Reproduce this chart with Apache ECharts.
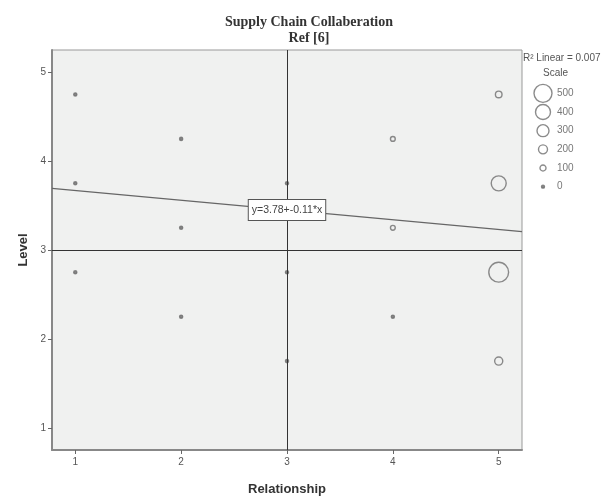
<!DOCTYPE html>
<html>
<head>
<meta charset="utf-8">
<script src="https://cdn.jsdelivr.net/npm/echarts@6/dist/echarts.min.js"></script>
<style>
  html, body { margin: 0; padding: 0; background: #fff; }
  #chart { width: 616px; height: 501px; }
</style>
</head>
<body>
<div id="chart"></div>
<script>
// data
const relationship = [1, 1, 1, 2, 2, 2, 3, 3, 3, 4, 4, 4, 5, 5, 5, 5];
const level = [4.75, 3.75, 2.75, 4.25, 3.25, 2.25, 3.75, 2.75, 1.75, 4.25, 3.25, 2.25, 4.75, 3.75, 2.75, 1.75];
const count = [5, 5, 5, 5, 5, 5, 5, 5, 5, 60, 60, 5, 120, 400, 560, 170];
const tickValues = [1, 2, 3, 4, 5];
const scaleValues = [500, 400, 300, 200, 100, 0];
const fitIntercept = 3.78;
const fitSlope = -0.11;

const xMin = 0.78, xMax = 5.22;
const yMin = 0.75, yMax = 5.25;

// bubble diameter from count
const bubble = v => 3 + 0.03 * v;
const fit = x => fitIntercept + fitSlope * x;
// tiny bubbles look like filled dots
const bubbleFill = p => (p.data[2] < 50 ? '#6e6e6e' : 'rgba(0,0,0,0)');

const points = relationship.map((x, i) => [x, level[i], count[i]]);

const chart = echarts.init(document.getElementById('chart'));

const sans = 'Arial, "Liberation Sans", sans-serif';
const labelFont = { color: '#555', fontSize: 10, fontFamily: sans };

const option = {
  animation: false,
  title: {
    text: 'Supply Chain Collaberation\nRef [6]',
    left: 304,
    top: 9,
    textAlign: 'center',
    textStyle: {
      fontFamily: '"Liberation Serif", "Times New Roman", serif',
      fontWeight: 'bold',
      fontSize: 14,
      lineHeight: 16,
      color: '#333'
    }
  },
  graphic: [
    {
      type: 'text', left: 523, top: 53,
      style: { text: 'R² Linear = 0.007', fontSize: 10, fill: '#555', fontFamily: sans }
    },
    {
      type: 'text', left: 543, top: 68,
      style: { text: 'Scale', fontSize: 10, fill: '#555', fontFamily: sans }
    }
  ],
  grid: [
    {
      left: 52, right: 94, top: 50, bottom: 46,
      show: true,
      backgroundColor: '#f0f1f0',
      borderColor: '#999',
      borderWidth: 1
    },
    { left: 533, width: 20, top: 84, height: 112 }
  ],
  xAxis: [
    {
      type: 'value', gridIndex: 0, min: xMin, max: xMax,
      name: 'Relationship', nameLocation: 'middle', nameGap: 33,
      nameTextStyle: { fontWeight: 'bold', fontSize: 13, color: '#333', fontFamily: sans },
      splitLine: { show: false },
      axisLine: { show: true, lineStyle: { color: '#888', width: 2 } },
      axisTick: { show: true, customValues: tickValues, length: 4, lineStyle: { color: '#666' } },
      axisLabel: Object.assign({ customValues: tickValues, margin: 7 }, labelFont)
    },
    { type: 'value', gridIndex: 1, show: false, min: -1, max: 1 }
  ],
  yAxis: [
    {
      type: 'value', gridIndex: 0, min: yMin, max: yMax,
      name: 'Level', nameLocation: 'middle', nameGap: 18, nameRotate: 90,
      nameTextStyle: { fontWeight: 'bold', fontSize: 13, color: '#333', fontFamily: sans },
      splitLine: { show: false },
      axisLine: { show: true, lineStyle: { color: '#888', width: 2 } },
      axisTick: { show: true, customValues: tickValues, length: 4, lineStyle: { color: '#666' } },
      axisLabel: Object.assign({ customValues: tickValues, margin: 6 }, labelFont)
    },
    {
      type: 'category', gridIndex: 1, show: false, inverse: true,
      data: scaleValues.map(String)
    }
  ],
  series: [
    {
      type: 'scatter',
      xAxisIndex: 0, yAxisIndex: 0,
      data: points,
      symbol: 'circle',
      symbolSize: d => bubble(d[2]),
      itemStyle: { color: bubbleFill, borderColor: '#6e6e6e', borderWidth: 1.4 },
      markLine: {
        silent: true,
        symbol: 'none',
        label: { show: false },
        lineStyle: { color: '#333', width: 1, type: 'solid' },
        data: [{ xAxis: 3 }, { yAxis: 3 }]
      },
      z: 3
    },
    {
      type: 'line',
      xAxisIndex: 0, yAxisIndex: 0,
      data: [[xMin, fit(xMin)], [xMax, fit(xMax)]],
      symbol: 'none',
      lineStyle: { color: '#666', width: 1.2 },
      markPoint: {
        symbol: 'rect',
        symbolSize: 0,
        data: [{ coord: [3, fit(3)] }],
        label: {
          show: true,
          formatter: 'y=3.78+-0.11*x',
          position: 'inside',
          backgroundColor: '#fff',
          borderColor: '#555',
          borderWidth: 1,
          padding: [5, 3, 4, 3],
          color: '#444',
          fontSize: 10.5,
          fontFamily: sans
        }
      },
      z: 2
    },
    {
      type: 'scatter',
      xAxisIndex: 1, yAxisIndex: 1,
      data: scaleValues.map((v, i) => [0, i, v]),
      symbolSize: d => bubble(d[2]),
      itemStyle: { color: bubbleFill, borderColor: '#6e6e6e', borderWidth: 1.4 },
      label: {
        show: true,
        position: 'inside',
        align: 'left',
        offset: [14, 0],
        formatter: p => String(p.data[2]),
        color: '#555', fontSize: 10,
        fontFamily: sans
      }
    }
  ]
};

chart.setOption(option);
</script>
</body>
</html>
